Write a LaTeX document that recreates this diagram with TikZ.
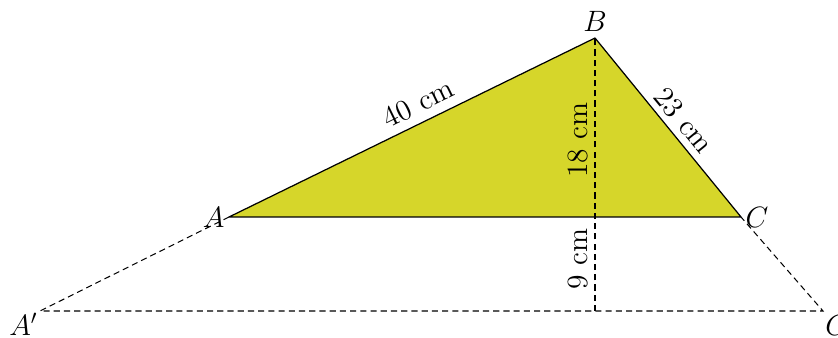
\documentclass[tikz,border=0pt]{standalone}
\usepackage{amsmath}
\usetikzlibrary{calc,positioning}
\definecolor{trifill}{RGB}{214,214,42}

\begin{document}
\begin{tikzpicture}[x=0.0172cm, y=-0.0172cm,
    side/.style={line width=0.6pt, line join=round},
    aux/.style={line width=0.5pt, dash pattern=on 3pt off 2pt},
    vlabel/.style={inner sep=2pt, font=\Large},
    measure/.style={sloped, above, inner sep=3pt, font=\Large}
]
\useasboundingbox (0,0) rectangle (838,338);

% points
\coordinate (A) at (229,217);
\coordinate (B) at (595,38);
\coordinate (C) at (741,217);
\coordinate (H) at (595,217);
\coordinate (A1) at (40,311);
\coordinate (C1) at (823,311);
\coordinate (K) at (595,311);

% triangle
\fill[trifill] (A) -- (B) -- (C) -- cycle;
\draw[aux] (A) -- (A1) -- (C1) -- (C);
\draw[aux] (K) -- node[measure, pos=0.55] (m9) {9 cm} (H)
               -- node[measure, pos=0.43] (m18) {18 cm} (B);
\draw[side] (A) -- node[measure, pos=0.54, inner sep=4pt] (m40) {40 cm} (B)
                -- node[measure, pos=0.52] (m23) {23 cm} (C) -- cycle;

% vertex names
\node[vlabel, left] (lA) at (A) {$A$};
\node[vlabel, above, inner sep=3pt] (lB) at (B) {$B$};
\node[vlabel, right] (lC) at (C) {$C$};
\node[vlabel, below left, inner sep=1pt] (lA1) at (A1) {$A'$};
\node[vlabel, below right, inner sep=1pt] (lC1) at (C1) {$C'$};
\end{tikzpicture}
\end{document}
